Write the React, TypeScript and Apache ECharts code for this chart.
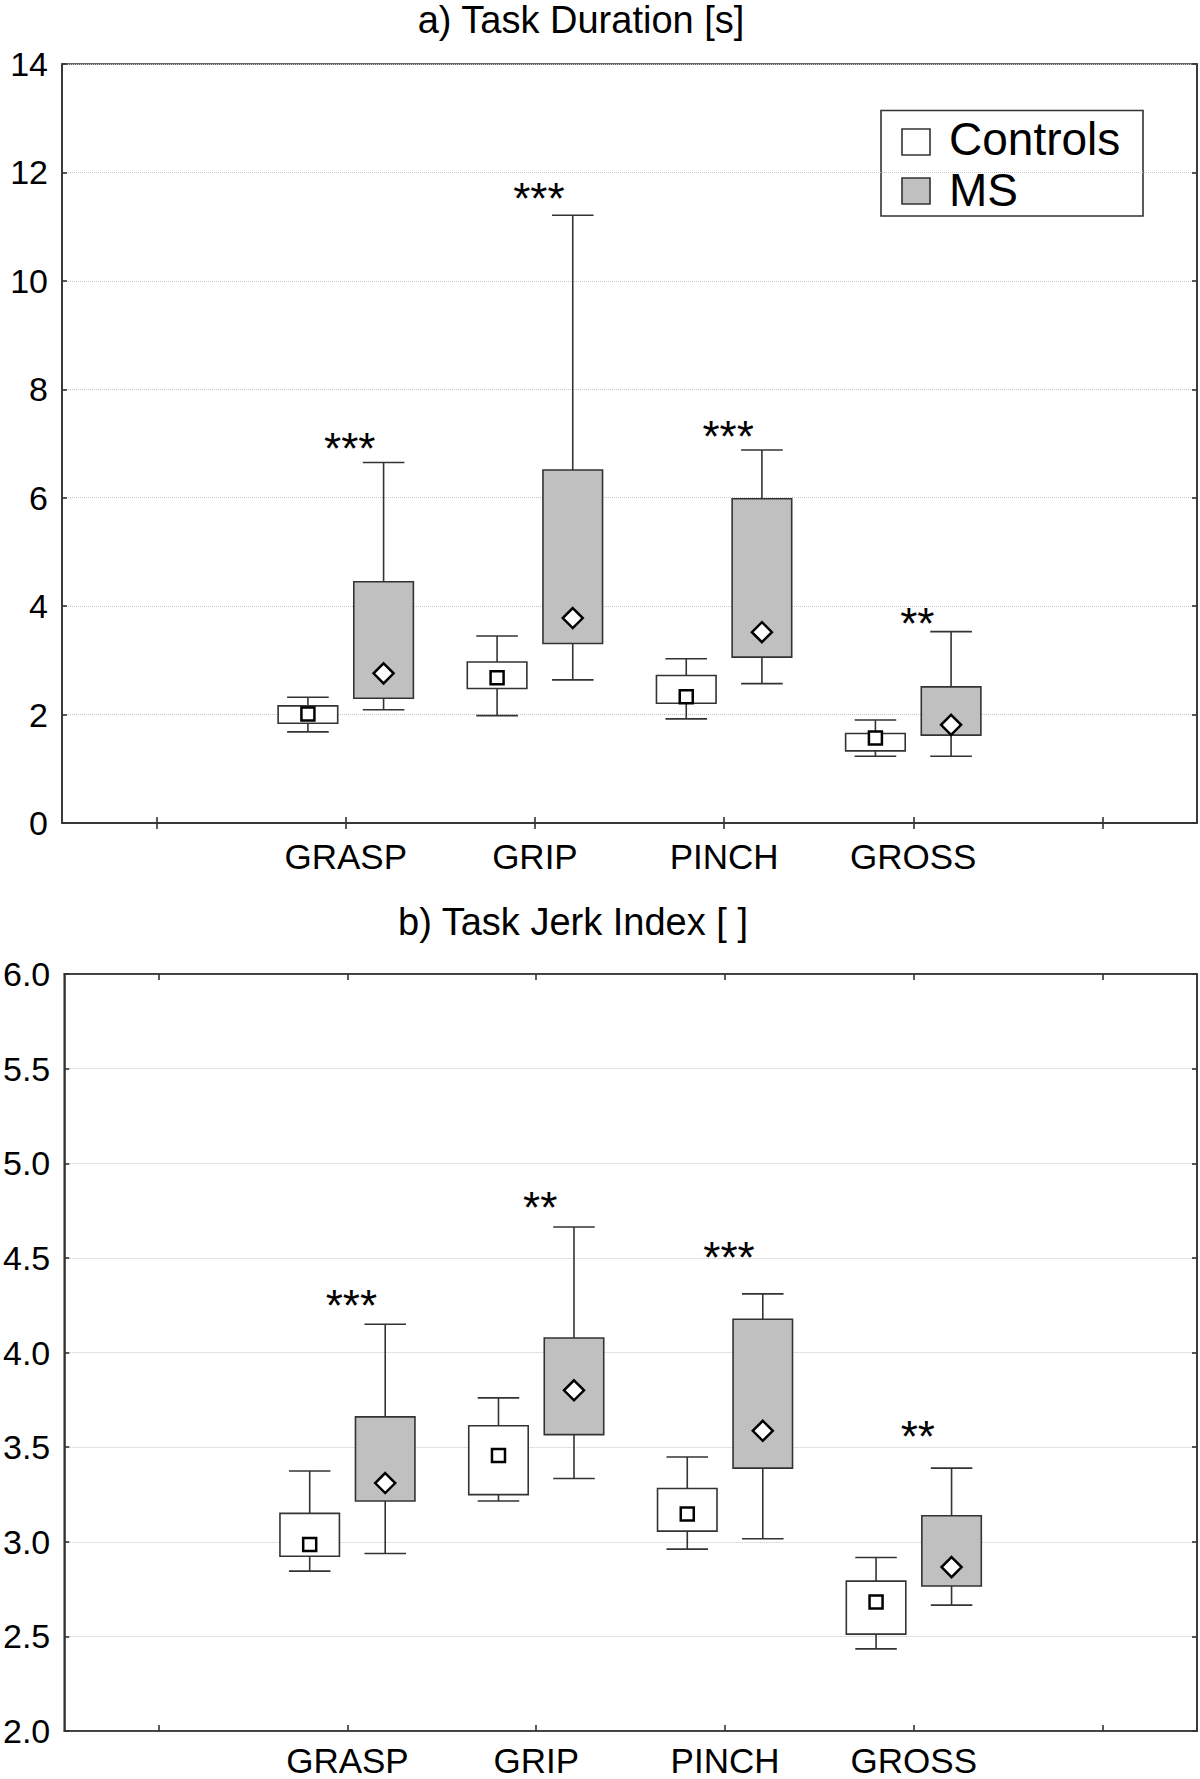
import React, { useEffect, useRef } from 'react';
import * as echarts from 'echarts';

// ---------- data ----------
const categories = ['', 'GRASP', 'GRIP', 'PINCH', 'GROSS', ''];
const taskIndex = [1, 2, 3, 4];
const seriesNames = ['Controls', 'MS'];

// each entry: [lower whisker, Q1, marker (centre), Q3, upper whisker]
const durationControls = [
  [1.68, 1.84, 2.01, 2.16, 2.32],
  [1.98, 2.48, 2.68, 2.97, 3.45],
  [1.92, 2.21, 2.33, 2.72, 3.03],
  [1.23, 1.33, 1.57, 1.65, 1.9],
];
const durationMS = [
  [2.09, 2.3, 2.76, 4.45, 6.65],
  [2.64, 3.31, 3.78, 6.51, 11.21],
  [2.57, 3.06, 3.52, 5.98, 6.88],
  [1.23, 1.62, 1.81, 2.51, 3.53],
];
const durationStars = ['***', '***', '***', '**'];
const durationStarLevel = [7.1, 11.7, 7.32, 3.87];
const durationTicks = [0, 2, 4, 6, 8, 10, 12, 14];

const jerkControls = [
  [2.845, 2.923, 2.986, 3.15, 3.374],
  [3.215, 3.249, 3.456, 3.613, 3.76],
  [2.961, 3.056, 3.147, 3.281, 3.448],
  [2.434, 2.512, 2.682, 2.792, 2.917],
];
const jerkMS = [
  [2.938, 3.215, 3.31, 3.66, 4.149],
  [3.334, 3.566, 3.8, 4.077, 4.663],
  [3.016, 3.389, 3.586, 4.176, 4.31],
  [2.665, 2.766, 2.866, 3.137, 3.389],
];
const jerkStars = ['***', '**', '***', '**'];
const jerkStarLevel = [4.3, 4.82, 4.555, 3.61];
const jerkTicks = ['2.0', '2.5', '3.0', '3.5', '4.0', '4.5', '5.0', '5.5', '6.0'];

const titles = ['a) Task Duration [s]', 'b) Task Jerk Index [ ]'];

// ---------- styles ----------
const FONT = 'Liberation Sans';
const AXIS_COLOR = '#333';
const MS_FILL = '#c0c0c0';

function boxRenderer(group: number) {
  return (params: any, api: any) => {
    const ci = api.value(0);
    const mn = api.value(1);
    const q1 = api.value(2);
    const mid = api.value(3);
    const q3 = api.value(4);
    const mx = api.value(5);
    const band = api.size([1, 0])[0];
    const cx = api.coord([ci, mid])[0] + (group === 0 ? -0.2 : 0.2) * band;
    const y = (v: number) => api.coord([ci, v])[1];
    const bw = band * 0.315;
    const cw = band * 0.22;
    const yMin = y(mn), yQ1 = y(q1), yMid = y(mid), yQ3 = y(q3), yMax = y(mx);
    const ls = { stroke: AXIS_COLOR, lineWidth: 1.6 };
    const children: any[] = [
      { type: 'line', shape: { x1: cx, y1: yMax, x2: cx, y2: yMin }, style: ls },
      { type: 'line', shape: { x1: cx - cw / 2, y1: yMax, x2: cx + cw / 2, y2: yMax }, style: ls },
      { type: 'line', shape: { x1: cx - cw / 2, y1: yMin, x2: cx + cw / 2, y2: yMin }, style: ls },
      {
        type: 'rect',
        shape: { x: cx - bw / 2, y: yQ3, width: bw, height: yQ1 - yQ3 },
        style: { fill: group === 0 ? '#fff' : MS_FILL, stroke: AXIS_COLOR, lineWidth: 1.6 },
      },
    ];
    if (group === 0) {
      children.push({
        type: 'rect',
        shape: { x: cx - 6.5, y: yMid - 6.5, width: 13, height: 13 },
        style: { fill: '#fff', stroke: '#000', lineWidth: 2.5 },
      });
    } else {
      const h = 10;
      children.push({
        type: 'polygon',
        shape: { points: [[cx, yMid - h], [cx + h, yMid], [cx, yMid + h], [cx - h, yMid]] },
        style: { fill: '#fff', stroke: '#000', lineWidth: 2.5 },
      });
    }
    return { type: 'group', children };
  };
}

function starRenderer(labels: string[]) {
  return (params: any, api: any) => {
    const p = api.coord([api.value(0), api.value(1)]);
    return {
      type: 'text',
      style: {
        text: labels[params.dataIndex],
        x: p[0] + 4,
        y: p[1] + 10,
        fill: '#000',
        font: `44px "${FONT}"`,
        align: 'center',
        verticalAlign: 'middle',
      },
    };
  };
}

function toRows(list: number[][]) {
  return list.map((d, i) => [taskIndex[i], ...d]);
}

function xAxes(gridIndex: number, labelMargin: number) {
  const common = {
    gridIndex,
    type: 'category',
    data: categories,
    boundaryGap: true,
    axisLine: { show: true, lineStyle: { color: AXIS_COLOR, width: 1.6 } },
    axisTick: { show: true, inside: true, alignWithLabel: true, interval: 0, length: 6, lineStyle: { color: AXIS_COLOR, width: 1.6 } },
    splitLine: { show: false },
  };
  return [
    { ...common, position: 'bottom', axisLabel: { show: true, interval: 0, color: '#000', fontSize: 35, fontFamily: FONT, margin: labelMargin } },
    { ...common, position: 'top', axisLabel: { show: false } },
  ];
}

function yAxes(gridIndex: number, min: number, max: number, interval: number, fmt: (v: number) => string) {
  const common = {
    gridIndex,
    type: 'value',
    min,
    max,
    interval,
    axisLine: { show: true, lineStyle: { color: AXIS_COLOR, width: 1.6 } },
    axisTick: { show: true, inside: true, length: 5, lineStyle: { color: AXIS_COLOR, width: 1.6 } },
  };
  return [
    {
      ...common,
      position: 'left',
      axisLabel: { show: true, color: '#000', fontSize: 34, fontFamily: FONT, margin: 14, formatter: fmt },
      splitLine: { show: true, lineStyle: { type: 'dotted', color: '#c4c4c4', width: 1 } },
    },
    { ...common, position: 'right', axisLabel: { show: false }, splitLine: { show: false } },
  ];
}

export default function App() {
  const ref = useRef<HTMLDivElement>(null);

  useEffect(() => {
    if (!ref.current) return;
    const chart = echarts.init(ref.current, null, { renderer: 'svg' });
    const durFmt = (v: number) => String(durationTicks.find((t) => Math.abs(t - v) < 1e-6) ?? v);
    const jerkFmt = (v: number) => jerkTicks.find((t) => Math.abs(parseFloat(t) - v) < 1e-6) ?? v.toFixed(1);

    const option: any = {
      animation: false,
      backgroundColor: '#fff',
      textStyle: { fontFamily: FONT },
      grid: [
        { left: 62, top: 64, right: 3, height: 759, show: true, borderColor: AXIS_COLOR, borderWidth: 1.6, backgroundColor: 'transparent' },
        { left: 63, top: 974, right: 3, height: 757, show: true, borderColor: AXIS_COLOR, borderWidth: 1.6, backgroundColor: 'transparent' },
      ],
      xAxis: [...xAxes(0, 16), ...xAxes(1, 12)],
      yAxis: [
        ...yAxes(0, durationTicks[0], durationTicks[durationTicks.length - 1], 2, durFmt),
        ...yAxes(1, 2, 6, 0.5, jerkFmt),
      ],
      series: [
        { type: 'custom', name: seriesNames[0], xAxisIndex: 0, yAxisIndex: 0, renderItem: boxRenderer(0), encode: { x: 0, y: [1, 2, 3, 4, 5] }, data: toRows(durationControls), z: 3 },
        { type: 'custom', name: seriesNames[1], xAxisIndex: 0, yAxisIndex: 0, renderItem: boxRenderer(1), encode: { x: 0, y: [1, 2, 3, 4, 5] }, data: toRows(durationMS), z: 3 },
        { type: 'custom', name: 'sig-a', xAxisIndex: 0, yAxisIndex: 0, renderItem: starRenderer(durationStars), encode: { x: 0, y: 1 }, data: durationStarLevel.map((v, i) => [taskIndex[i], v]), z: 4 },
        { type: 'custom', name: seriesNames[0], xAxisIndex: 2, yAxisIndex: 2, renderItem: boxRenderer(0), encode: { x: 0, y: [1, 2, 3, 4, 5] }, data: toRows(jerkControls), z: 3 },
        { type: 'custom', name: seriesNames[1], xAxisIndex: 2, yAxisIndex: 2, renderItem: boxRenderer(1), encode: { x: 0, y: [1, 2, 3, 4, 5] }, data: toRows(jerkMS), z: 3 },
        { type: 'custom', name: 'sig-b', xAxisIndex: 2, yAxisIndex: 2, renderItem: starRenderer(jerkStars), encode: { x: 0, y: 1 }, data: jerkStarLevel.map((v, i) => [taskIndex[i], v]), z: 4 },
      ],
      graphic: [
        { type: 'text', x: 581, y: 20, style: { text: titles[0], font: `38px "${FONT}"`, fill: '#000', align: 'center', verticalAlign: 'middle' } },
        { type: 'text', x: 573, y: 922, style: { text: titles[1], font: `38px "${FONT}"`, fill: '#000', align: 'center', verticalAlign: 'middle' } },
        {
          type: 'group',
          z: 10,
          children: [
            { type: 'rect', shape: { x: 881, y: 110.5, width: 262, height: 105.5 }, style: { fill: '#fff', stroke: AXIS_COLOR, lineWidth: 1.6 } },
            { type: 'rect', shape: { x: 902, y: 129, width: 28, height: 26 }, style: { fill: '#fff', stroke: AXIS_COLOR, lineWidth: 1.6 } },
            { type: 'rect', shape: { x: 902, y: 178, width: 28, height: 26 }, style: { fill: MS_FILL, stroke: AXIS_COLOR, lineWidth: 1.6 } },
            { type: 'text', x: 949, y: 139, style: { text: seriesNames[0], font: `46px "${FONT}"`, fill: '#000', align: 'left', verticalAlign: 'middle' } },
            { type: 'text', x: 949, y: 190, style: { text: seriesNames[1], font: `46px "${FONT}"`, fill: '#000', align: 'left', verticalAlign: 'middle' } },
          ],
        },
      ],
    };
    chart.setOption(option);
    return () => chart.dispose();
  }, []);

  return (
    <div
      ref={ref}
      style={{ position: 'absolute', left: 0, top: 0, width: 1200, height: 1779, background: '#fff' }}
    />
  );
}
